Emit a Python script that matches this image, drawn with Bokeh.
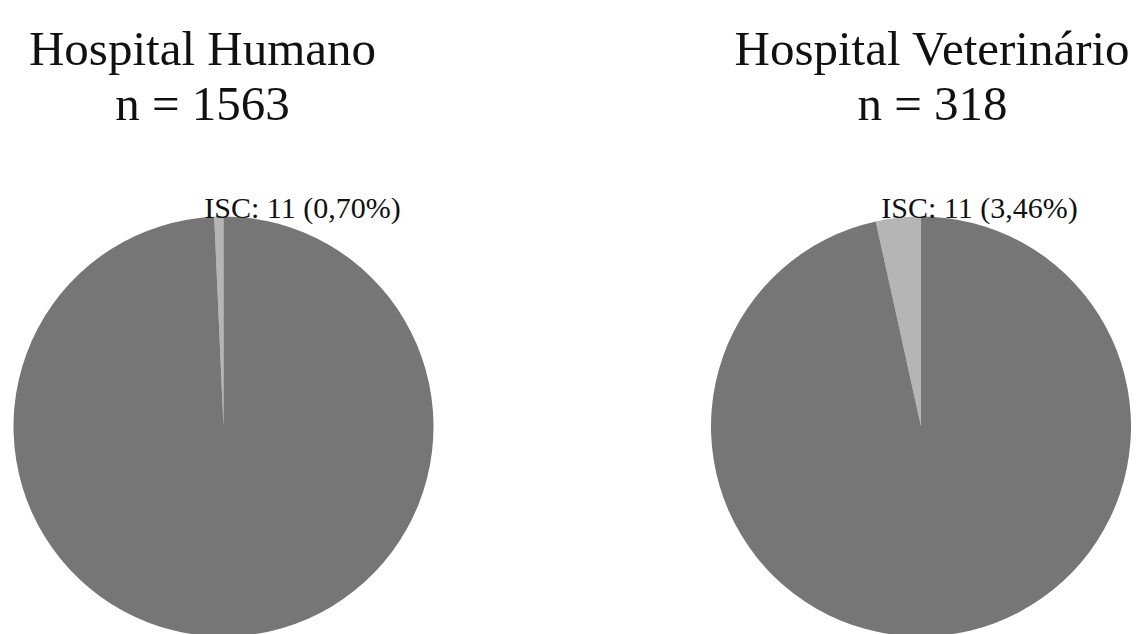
import math
from bokeh.plotting import figure
from bokeh.models import Range1d, ColumnDataSource
from bokeh.core.properties import value
from bokeh.embed import file_html
from bokeh.resources import INLINE

# Surgical site infection (ISC) counts per hospital
hospitals = ["Hospital Humano", "Hospital Veterinário"]
totals = [1563, 318]
isc_cases = [11, 11]

# Layout (canvas pixels, y measured upward)
W, H = 1143, 634
pie_cx = [223, 920.5]
pie_cy = 208
pie_r = 210
title_cx = [202, 932]
label_cx = [302, 979]

DARK = "#767676"
LIGHT = "#b5b5b5"
FONT = "Liberation Serif"

p = figure(width=W, height=H, output_backend="svg", toolbar_location=None,
           x_range=Range1d(0, W), y_range=Range1d(0, H), min_border=0,
           outline_line_color=None, background_fill_color="white")
p.axis.visible = False
p.grid.visible = False

xs, ys, starts, ends, colors = [], [], [], [], []
for i, (tot, isc) in enumerate(zip(totals, isc_cases)):
    frac = isc / tot
    a0 = math.pi / 2
    a1 = a0 + 2 * math.pi * frac
    # ISC slice, counter-clockwise from twelve o'clock
    xs.append(pie_cx[i]); ys.append(pie_cy); starts.append(a0); ends.append(a1); colors.append(LIGHT)
    # remaining patients
    xs.append(pie_cx[i]); ys.append(pie_cy); starts.append(a1); ends.append(a0 + 2 * math.pi); colors.append(DARK)

src = ColumnDataSource(dict(x=xs, y=ys, start=starts, end=ends, color=colors))
p.wedge(x="x", y="y", radius=pie_r, start_angle="start", end_angle="end",
        direction="anticlock", fill_color="color", line_color=None, source=src)

# Titles
p.text(x=title_cx, y=[H - 48] * 2, text=hospitals, text_font=value(FONT),
       text_font_size="49px", text_align="center", text_baseline="alphabetic",
       text_color="#111111")
p.text(x=title_cx, y=[H - 103] * 2, text=[f"n = {t}" for t in totals],
       text_font=value(FONT), text_font_size="49px", text_align="center",
       text_baseline="alphabetic", text_color="#111111")

# Slice labels
labels = [f"ISC: {isc} ({100 * isc / tot:.2f}%)".replace(".", ",")
          for tot, isc in zip(totals, isc_cases)]
p.text(x=label_cx, y=[H - 207] * 2, text=labels, text_font=value(FONT),
       text_font_size="30px", text_align="center", text_baseline="alphabetic",
       text_color="#111111")

open("out.html", "w").write(file_html(p, INLINE))
